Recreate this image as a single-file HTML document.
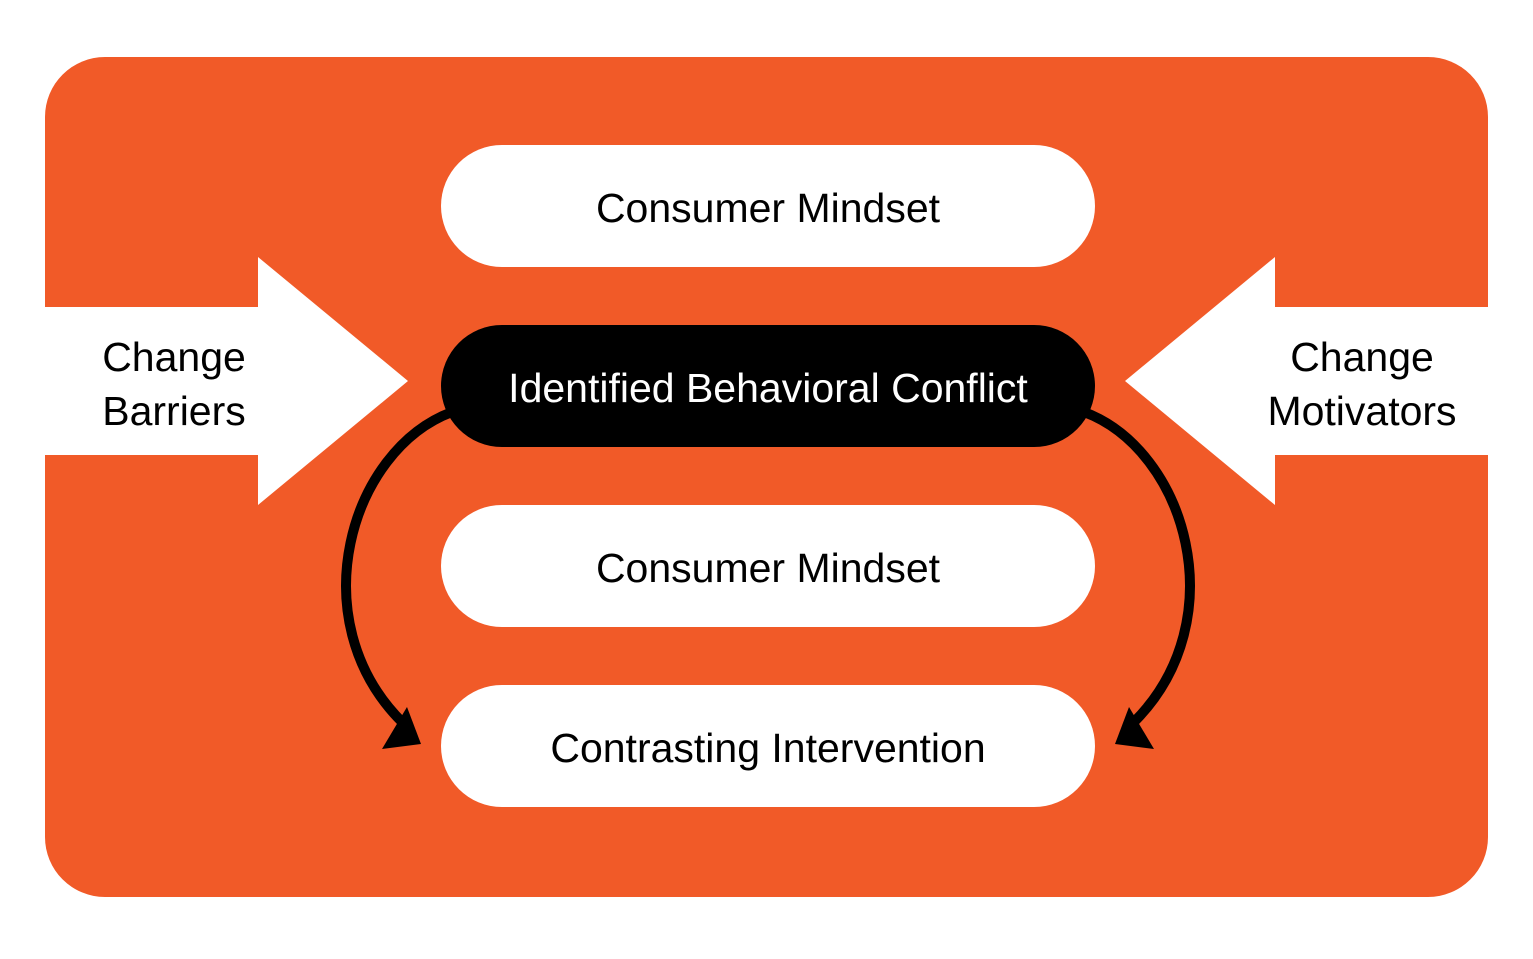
<!DOCTYPE html>
<html><head><style>
body{margin:0;width:1533px;height:954px;background:#fff;overflow:hidden;font-family:"Liberation Sans",Arial,sans-serif}
</style></head><body>
<svg width="1533" height="954" xmlns="http://www.w3.org/2000/svg">
<rect x="45" y="57" width="1443" height="840" rx="60" fill="#F15A28"/>
<polygon points="45,307 258,307 258,257 408,381 258,505 258,455 45,455" fill="#fff"/>
<polygon points="1488,307 1275,307 1275,257 1125,381 1275,505 1275,455 1488,455" fill="#fff"/>
<rect x="441" y="145" width="654" height="122" rx="61" fill="#fff"/>
<rect x="441" y="505" width="654" height="122" rx="61" fill="#fff"/>
<rect x="441" y="685" width="654" height="122" rx="61" fill="#fff"/>
<path d="M452,412 C350,450 300,620 402,722" fill="none" stroke="#000" stroke-width="10"/>
<path d="M1084,412 C1186,450 1236,620 1134,722" fill="none" stroke="#000" stroke-width="10"/>
<polygon points="407,707 421,744 382,749" fill="#000"/>
<polygon points="1129,707 1115,744 1154,749" fill="#000"/>
<rect x="441" y="325" width="654" height="122" rx="61" fill="#000"/>
<g font-size="41" text-anchor="middle">
<text x="768" y="222">Consumer Mindset</text>
<text x="768" y="402" fill="#fff">Identified Behavioral Conflict</text>
<text x="768" y="582">Consumer Mindset</text>
<text x="768" y="762">Contrasting Intervention</text>
<text x="174" y="371">Change</text>
<text x="174" y="425">Barriers</text>
<text x="1362" y="371">Change</text>
<text x="1362" y="425">Motivators</text>
</g>
</svg>
</body></html>
